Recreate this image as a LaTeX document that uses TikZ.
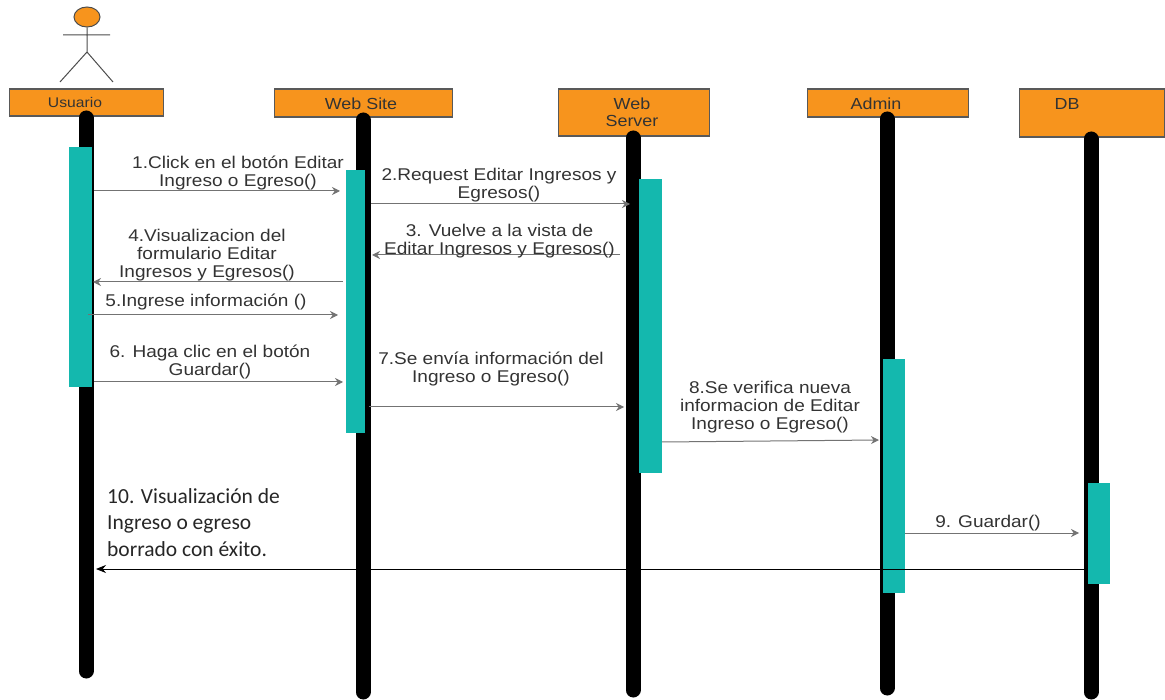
\documentclass[tikz,border=0pt]{standalone}
\usepackage{fontspec}
\usetikzlibrary{shapes.geometric,arrows.meta}
\setmainfont{Liberation Sans}
\newfontfamily\labelfont[FakeStretch=1.12]{Liberation Sans}
\newfontfamily\notefont{Carlito}
\definecolor{boxorange}{HTML}{F7941D}
\definecolor{barteal}{HTML}{14B8AE}
\definecolor{inkgray}{HTML}{333333}
\tikzset{
  actorbox/.style={draw=black!65, line width=1.2pt, fill=boxorange, rectangle, inner sep=0pt},
  boxtext/.style={text=inkgray, font=\labelfont\fontsize{16}{17}\selectfont, align=center, inner sep=0pt},
  lifeline/.style={line width=15pt, line cap=round, black},
  activation/.style={fill=barteal, draw=none, rectangle, inner sep=0pt},
  msg/.style={-{Stealth[length=8pt,width=8pt]}, black!55, line width=1pt},
  msgtext/.style={text=inkgray, font=\labelfont\fontsize{17}{18}\selectfont, align=center, inner sep=0pt},
  notetext/.style={text=black!85, font=\notefont\fontsize{21.5}{26.5}\selectfont, align=left, inner sep=0pt}
}
\begin{document}
\begin{tikzpicture}[x=1pt,y=-1pt]
  \useasboundingbox (0,0) rectangle (1165,700);
  % actor
  \node[draw=black!70, line width=1pt, fill=boxorange, ellipse, minimum width=26pt, minimum height=20pt, inner sep=0pt] (head) at (87,17) {};
  \coordinate (hip) at (87,52);
  \coordinate (armL) at (63,35);
  \coordinate (armR) at (110,35);
  \coordinate (legL) at (60,82);
  \coordinate (legR) at (113,82);
  \draw[black!70, line width=1pt] (head.south) -- (hip) (armL) -- (armR) (legL) -- (hip) -- (legR);
  % boxes
  \node[actorbox, minimum width=154pt, minimum height=27pt] (usuario) at (86.5,102.5) {};
  \node[actorbox, minimum width=178pt, minimum height=28pt] (website) at (363.5,103) {};
  \node[actorbox, minimum width=151pt, minimum height=47pt] (webserver) at (634,112.5) {};
  \node[actorbox, minimum width=161pt, minimum height=28pt] (admin) at (888,103) {};
  \node[actorbox, minimum width=145pt, minimum height=48pt] (db) at (1092,113) {};
  \node[boxtext, font=\labelfont\fontsize{14}{14}\selectfont] (usuariotext) at (75,102) {Usuario};
  \node[boxtext] (websitetext) at (361,104) {Web Site};
  \node[boxtext] (webservertext) at (632,112) {Web\\Server};
  \node[boxtext] (admintext) at (876,104) {Admin};
  \node[boxtext] (dbtext) at (1067,104) {DB};
  % lifelines
  \foreach \name/\x/\ya/\yb in {usuario/86/118/671,website/363/120/692,webserver/633/138/690,admin/887/119/688,db/1091/139/692}
  {
    \coordinate (\name top) at (\x,\ya);
    \coordinate (\name end) at (\x,\yb);
    \draw[lifeline] (\name top) -- (\name end);
  }
  % activations
  \node[activation, minimum width=23pt, minimum height=240pt] (actusuario) at (80.5,267) {};
  \node[activation, minimum width=19pt, minimum height=263pt] (actwebsite) at (355.5,301.5) {};
  \node[activation, minimum width=23pt, minimum height=294pt] (actwebserver) at (650.5,326) {};
  \node[activation, minimum width=22pt, minimum height=234pt] (actadmin) at (894,476) {};
  \node[activation, minimum width=22pt, minimum height=101pt] (actdb) at (1099,533.5) {};
  % messages
  \foreach \n/\xa/\ya/\xb/\yb in {1/94/191/340/191,2/371/204/630/204,3/620/255/372/255,4/343/282/93/282,5/88/315/338/315,6/94/382/343/382,7/369/407/624/407,8/662/442/879/440,9/905/533/1079/533}
  {
    \coordinate (from\n) at (\xa,\ya);
    \coordinate (to\n) at (\xb,\yb);
    \draw[msg] (from\n) -- (to\n);
  }
  \coordinate (from10) at (1086,569);
  \coordinate (to10) at (96,569);
  \draw[-{Stealth[length=10pt,width=8pt]}, black, line width=.9pt] (from10) -- (to10);
  % labels
  \node[msgtext] (text1) at (238,173) {1.Click en el botón Editar\\Ingreso o Egreso()};
  \node[msgtext] (text2) at (499,185) {2.Request Editar Ingresos y\\Egresos()};
  \node[msgtext] (text3) at (499.5,241) {3. Vuelve a la vista de\\Editar Ingresos y Egresos()};
  \node[msgtext] (text4) at (207,255) {4.Visualizacion del\\formulario Editar\\Ingresos y Egresos()};
  \node[msgtext] (text5) at (206,302) {5.Ingrese información ()};
  \node[msgtext] (text6) at (210,362) {6. Haga clic en el botón\\Guardar()};
  \node[msgtext] (text7) at (491,369) {7.Se envía información del\\Ingreso o Egreso()};
  \node[msgtext] (text8) at (770,407) {8.Se verifica nueva\\informacion de Editar\\Ingreso o Egreso()};
  \node[msgtext] (text9) at (988,523) {9. Guardar()};
  \node[notetext, anchor=north west] (text10) at (107,488) {10. Visualización de\\Ingreso o egreso\\borrado con éxito.};
\end{tikzpicture}
\end{document}
